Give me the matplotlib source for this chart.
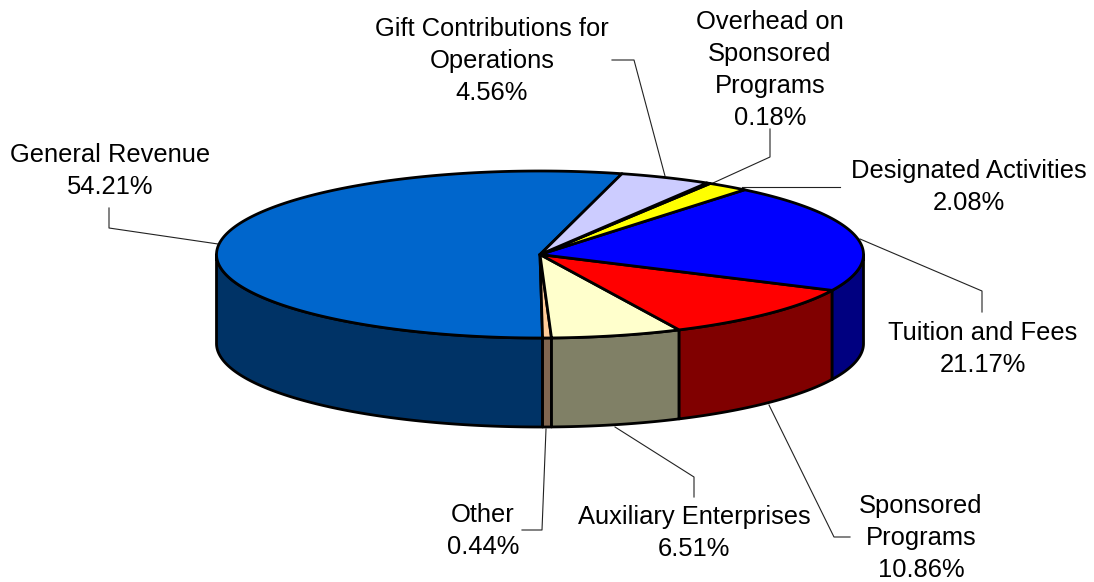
import numpy as np
import matplotlib
matplotlib.use('Agg')
import matplotlib.pyplot as plt
from matplotlib.patches import Polygon

plt.rcParams['font.family'] = ['Liberation Sans', 'DejaVu Sans']

# slices, counter-clockwise starting at General Revenue
names = ['General Revenue', 'Other', 'Auxiliary Enterprises', 'Sponsored\nPrograms', 'Tuition and Fees',
         'Designated Activities', 'Overhead on\nSponsored\nPrograms', 'Gift Contributions for\nOperations']
values = [54.21, 0.44, 6.51, 10.86, 21.17, 2.08, 0.18, 4.56]
top_colors = ['#0066CC', '#FFCC99', '#FFFFCC', '#FF0000', '#0000FF', '#FFFF00', '#660033', '#CCCCFF']
side_colors = ['#003366', '#806650', '#808066', '#800000', '#000080', '#808000', '#330019', '#666680']

# label centres in pixels
label_pos = [(110, 171), (483, 531), (694, 533), (921, 538), (983, 349), (969, 187), (770, 70), (492, 61)]
# leader lines in pixels
leaders = [[(218, 244), (109, 228), (109, 208)],
           [(546, 429), (542, 530), (522, 530)],
           [(615, 427), (694, 477), (694, 497)],
           [(769, 405), (834, 537), (850, 537)],
           [(860, 239), (982, 291), (982, 312)],
           [(742, 187), (840, 187)],
           [(713, 183), (770, 157), (770, 129)],
           [(665, 176), (634, 60), (612, 60)]]

cx, cy, rx, ry, depth = 540, 254.5, 323.5, 83.5, 89
start = 75.3


def arc(a, b, n=200):
    t = np.radians(np.linspace(a, b, n))
    return np.column_stack([cx + rx * np.cos(t), cy - ry * np.sin(t)])


fig = plt.figure(figsize=(10.94, 5.82), dpi=100)
ax = fig.add_axes([0, 0, 1, 1])
ax.set_xlim(0, 1094)
ax.set_ylim(582, 0)
ax.axis('off')

for line in leaders:
    xs, ys = zip(*line)
    ax.plot(xs, ys, color='#222222', lw=0.8, zorder=1)

# walls first, only the front half of the cylinder shows
a = start
for i, v in enumerate(values):
    b = a + v * 3.6
    lo, hi = max(a, 180), min(b, 360)
    if hi > lo:
        edge = arc(lo, hi)
        wall = np.vstack([edge, edge[::-1] + [0, depth]])
        ax.add_patch(Polygon(wall, closed=True, fc=side_colors[i], ec='black', lw=2.0, zorder=2, joinstyle='round'))
    a = b

# then the top
a = start
for i, v in enumerate(values):
    b = a + v * 3.6
    wedge = np.vstack([[cx, cy], arc(a, b)])
    ax.add_patch(Polygon(wedge, closed=True, fc=top_colors[i], ec='black', lw=2.0, zorder=3, joinstyle='round'))
    a = b

for name, v, (x, y) in zip(names, values, label_pos):
    ax.text(x, y, f'{name}\n{v:.2f}%', ha='center', va='center', fontsize=18.35,
            linespacing=1.41, color='black', zorder=4)

fig.savefig('out.png', dpi=100)
